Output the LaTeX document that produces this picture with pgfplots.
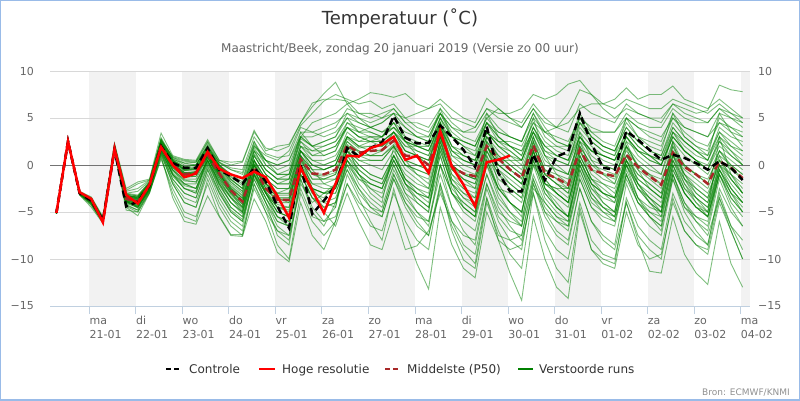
\documentclass[border=0pt]{standalone}
\usepackage{fontspec}
\setmainfont{DejaVu Sans}
\usepackage{pgfplots}
\pgfplotsset{compat=1.18}
\definecolor{ens}{RGB}{0,128,0}
\definecolor{hres}{RGB}{255,0,0}
\definecolor{pfty}{RGB}{168,40,40}
\definecolor{band}{RGB}{242,242,242}
\definecolor{gridc}{RGB}{216,216,216}
\definecolor{axc}{RGB}{192,208,224}
\definecolor{lab}{RGB}{102,102,102}
\definecolor{bordc}{RGB}{153,187,232}
\definecolor{ttl}{RGB}{51,51,51}
\definecolor{cred}{RGB}{144,144,144}
\newcommand\mem[1]{\addplot[ens, line width=0.9pt, draw opacity=0.5] table[row sep=\\, x expr=\coordindex*6-17, y=v]{v\\#1\\};}
\begin{document}
\begin{tikzpicture}[x=1pt,y=1pt]
\useasboundingbox (0,0) rectangle (800,400);
\draw[bordc, line width=2pt] (0,0) rectangle (800,400);
\begin{axis}[at={(50pt,94pt)}, anchor=south west, width=700pt, height=235pt, scale only axis,
 xmin=-20.3, xmax=340.8, ymin=-15, ymax=10,
 axis x line*=bottom, axis y line*=left,
 y axis line style={draw=none},
 x axis line style={draw=axc, line width=1pt, -},
 xtick={0,24,...,336},
 xticklabels={{\strut ma\\21-01},{\strut di\\22-01},{\strut wo\\23-01},{\strut do\\24-01},{\strut vr\\25-01},{\strut za\\26-01},{\strut zo\\27-01},{\strut ma\\28-01},{\strut di\\29-01},{\strut wo\\30-01},{\strut do\\31-01},{\strut vr\\01-02},{\strut za\\02-02},{\strut zo\\03-02},{\strut ma\\04-02}},
 tick align=outside, major tick length=8pt,
 xtick style={draw=axc, line width=1pt},
 ytick style={draw=none},
 ytick={-15,-10,-5,0,5,10}, yticklabels={−15,−10,−5,0,5,10},
 tick label style={font=\fontsize{11}{14}\selectfont, text=lab},
 xticklabel style={align=left, anchor=north west, inner sep=0pt},
 yticklabel style={anchor=east, inner sep=0pt, xshift=-8pt},
]
\fill[band] (axis cs:0,-15) rectangle (axis cs:24,10);
\fill[band] (axis cs:48,-15) rectangle (axis cs:72,10);
\fill[band] (axis cs:96,-15) rectangle (axis cs:120,10);
\fill[band] (axis cs:144,-15) rectangle (axis cs:168,10);
\fill[band] (axis cs:192,-15) rectangle (axis cs:216,10);
\fill[band] (axis cs:240,-15) rectangle (axis cs:264,10);
\fill[band] (axis cs:288,-15) rectangle (axis cs:312,10);
\fill[band] (axis cs:336,-15) rectangle (axis cs:340.8,10);
\draw[gridc, line width=1pt] (axis cs:-20.3,10) -- (axis cs:340.8,10);
\draw[gridc, line width=1pt] (axis cs:-20.3,5) -- (axis cs:340.8,5);
\draw[gridc, line width=1pt] (axis cs:-20.3,-5) -- (axis cs:340.8,-5);
\draw[gridc, line width=1pt] (axis cs:-20.3,-10) -- (axis cs:340.8,-10);
\draw[black!55, line width=1pt] (axis cs:-20.3,0) -- (axis cs:340.8,0);
% ensemble members (Verstoorde runs)
\mem{-5.0\\2.6\\-3.0\\-3.6\\-5.8\\1.9\\-3.0\\-3.2\\-1.8\\2.2\\0.6\\0.2\\0.3\\2.0\\0.3\\-0.5\\-1.0\\2.0\\1.0\\0.5\\1.5\\4.2\\5.5\\6.8\\7.5\\7.0\\6.5\\6.8\\6.0\\6.5\\5.0\\4.0\\3.5\\5.5\\4.0\\3.0\\2.5\\5.0\\6.0\\5.0\\4.5\\6.5\\5.0\\4.0\\5.5\\8.0\\7.5\\6.0\\5.0\\6.0\\5.5\\5.0\\4.5\\6.5\\6.0\\5.5\\5.8\\8.5\\8.0\\7.8}
\mem{-5.2\\2.5\\-2.9\\-3.5\\-5.6\\2.1\\-2.7\\-2.0\\-1.6\\2.6\\0.9\\0.5\\0.4\\2.5\\0.5\\0.0\\0.3\\3.5\\1.8\\1.5\\2.0\\4.5\\6.2\\7.6\\8.8\\6.5\\5.0\\4.0\\4.5\\5.5\\3.0\\2.0\\1.5\\4.5\\2.0\\1.0\\0.5\\3.5\\2.0\\1.0\\0.0\\3.5\\1.0\\0.0\\-1.0\\3.0\\1.5\\0.5\\0.0\\2.5\\1.5\\1.0\\0.0\\3.5\\2.5\\1.5\\1.0\\3.5\\2.5\\1.5}
\mem{-5.1\\2.4\\-3.1\\-4.0\\-6.0\\1.7\\-4.0\\-4.2\\-2.5\\1.5\\-1.0\\-2.5\\-2.8\\0.5\\-2.5\\-4.5\\-5.5\\-1.5\\-4.0\\-6.5\\-7.5\\-1.5\\-4.5\\-6.0\\-5.5\\-2.0\\-4.5\\-6.5\\-7.0\\-3.0\\-6.0\\-8.0\\-9.0\\-2.0\\-6.0\\-8.5\\-9.5\\-3.5\\-7.0\\-9.5\\-11.0\\-3.0\\-8.0\\-11.0\\-12.5\\-4.5\\-9.0\\-10.5\\-11.0\\-5.0\\-8.5\\-10.0\\-9.5\\-4.0\\-7.0\\-8.5\\-9.0\\-3.5\\-6.5\\-8.0}
\mem{-5.0\\2.6\\-3.2\\-4.3\\-6.1\\1.5\\-4.5\\-5.4\\-3.0\\0.8\\-3.0\\-5.5\\-6.0\\-1.5\\-4.5\\-6.5\\-7.5\\-2.0\\-5.0\\-8.5\\-10.0\\-3.0\\-6.0\\-7.5\\-6.0\\-1.0\\-3.5\\-6.0\\-8.0\\-2.5\\-7.0\\-10.5\\-13.2\\-4.5\\-8.5\\-11.0\\-12.0\\-5.0\\-8.0\\-9.0\\-8.5\\-2.5\\-4.0\\-5.5\\-6.0\\0.5\\-2.5\\-4.0\\-5.0\\0.0\\-2.0\\-3.5\\-5.0\\-0.5\\-3.0\\-4.5\\-5.5\\-1.0\\-3.0\\-4.0}
\mem{-5.1\\2.5\\-3.0\\-3.9\\-5.9\\1.6\\-4.2\\-4.8\\-2.8\\1.2\\-2.0\\-4.0\\-4.5\\-0.5\\-3.5\\-5.5\\-6.5\\-1.0\\-3.0\\-5.5\\-6.5\\-0.5\\-3.0\\-4.5\\-4.0\\0.0\\-2.5\\-4.5\\-5.5\\-1.5\\-4.5\\-6.5\\-7.5\\-2.5\\-6.5\\-9.0\\-10.5\\-3.5\\-8.0\\-11.5\\-14.4\\-5.5\\-10.0\\-13.0\\-14.2\\-5.0\\-9.0\\-10.0\\-10.5\\-3.5\\-6.5\\-8.0\\-9.0\\-3.0\\-6.0\\-7.5\\-8.5\\-2.5\\-5.0\\-6.5}
\mem{-5.2\\2.6\\-3.1\\-4.1\\-6.0\\1.8\\-3.8\\-4.6\\-2.6\\1.8\\-0.5\\-2.0\\-2.5\\0.8\\-1.5\\-3.5\\-4.5\\0.5\\-1.5\\-3.5\\-4.0\\1.5\\-0.5\\-2.0\\-2.5\\1.5\\-0.5\\-1.5\\-2.0\\0.5\\-2.0\\-3.5\\-4.5\\0.0\\-3.0\\-4.5\\-5.5\\-1.0\\-4.0\\-5.5\\-6.5\\-1.5\\-5.0\\-7.0\\-8.0\\-2.5\\-6.0\\-8.0\\-9.0\\-4.0\\-8.0\\-11.3\\-11.5\\-5.5\\-9.5\\-11.5\\-12.7\\-6.0\\-10.5\\-13.0}
\mem{-5.1\\2.5\\-3.0\\-3.7\\-5.8\\1.9\\-3.3\\-3.5\\-2.0\\2.4\\0.5\\-0.5\\-0.5\\1.5\\0.0\\-1.5\\-2.5\\1.5\\0.5\\-1.0\\-0.5\\3.0\\4.5\\5.0\\5.5\\6.5\\7.0\\7.7\\7.5\\7.2\\7.6\\6.5\\6.0\\7.0\\5.9\\5.0\\4.5\\7.1\\6.0\\5.0\\4.0\\6.0\\4.0\\2.5\\2.0\\5.5\\3.5\\2.5\\2.0\\5.0\\4.0\\3.0\\2.5\\5.5\\4.0\\3.5\\3.0\\5.5\\5.0\\4.5}
\mem{-5.0\\2.6\\-2.9\\-3.6\\-5.7\\2.0\\-3.2\\-3.5\\-1.9\\2.8\\0.5\\-0.5\\-0.3\\1.8\\-0.2\\-1.8\\-2.8\\1.0\\-1.0\\-2.0\\-2.0\\2.0\\0.5\\0.0\\0.5\\3.5\\2.5\\3.0\\3.0\\4.0\\2.5\\2.0\\1.5\\4.5\\1.5\\0.5\\0.0\\3.0\\1.5\\0.5\\-0.5\\3.0\\0.0\\-0.5\\-1.0\\2.5\\0.5\\0.0\\-0.5\\2.0\\0.5\\-0.5\\-1.0\\2.5\\1.0\\0.0\\-1.0\\1.5\\0.5\\-0.5}
\mem{-5.2\\2.4\\-3.1\\-4.0\\-6.0\\1.7\\-3.9\\-4.0\\-2.4\\1.7\\-0.5\\-1.5\\-1.5\\0.8\\-1.5\\-3.0\\-4.5\\-0.5\\-3.0\\-4.5\\-4.5\\0.0\\-2.0\\-2.0\\-1.5\\1.5\\0.5\\0.5\\0.5\\2.0\\0.0\\-0.5\\-1.0\\3.0\\-1.0\\-2.0\\-2.5\\1.5\\-0.5\\-1.5\\-2.5\\1.5\\-2.0\\-2.5\\-3.5\\1.0\\-1.5\\-2.0\\-2.5\\0.5\\-1.0\\-2.0\\-3.0\\1.0\\-1.0\\-2.0\\-3.0\\0.0\\-1.0\\-2.5}
\mem{-5.1\\2.5\\-3.0\\-3.8\\-5.9\\1.8\\-3.5\\-3.8\\-2.1\\2.1\\0.2\\-1.0\\-1.0\\1.0\\-1.0\\-2.5\\-3.5\\0.0\\-2.0\\-3.0\\-3.0\\1.0\\-0.5\\-0.5\\0.0\\3.0\\2.0\\2.5\\3.0\\4.5\\3.5\\3.0\\3.0\\5.5\\4.0\\3.5\\4.0\\6.0\\5.5\\5.5\\6.0\\7.5\\7.0\\7.5\\8.6\\9.0\\7.5\\6.5\\6.0\\7.0\\6.5\\6.0\\6.0\\7.0\\6.5\\6.0\\5.5\\6.5\\5.5\\4.5}
\mem{-5.0\\2.5\\-3.0\\-3.8\\-5.9\\1.8\\-3.4\\-3.6\\-2.0\\2.3\\0.3\\-0.8\\-0.7\\1.3\\-0.6\\-2.2\\-3.2\\0.5\\-1.5\\-2.5\\-2.5\\1.5\\0.0\\-0.5\\0.0\\3.0\\2.0\\2.0\\2.0\\3.5\\1.5\\1.0\\0.5\\4.5\\1.0\\0.5\\0.0\\3.5\\2.5\\2.5\\2.0\\4.5\\3.5\\4.0\\4.5\\6.0\\6.5\\6.5\\7.0\\8.2\\7.0\\7.5\\7.5\\8.4\\7.0\\6.5\\6.0\\7.0\\6.0\\5.0}
\mem{-5.1\\2.5\\-3.0\\-3.9\\-6.0\\1.6\\-4.0\\-4.3\\-2.6\\1.4\\-1.5\\-3.0\\-3.5\\0.0\\-3.0\\-5.0\\-6.0\\-1.0\\-3.5\\-6.0\\-6.5\\-1.0\\-3.5\\-4.0\\-3.5\\-0.5\\-3.0\\-4.5\\-5.0\\-1.0\\-3.5\\-5.0\\-6.0\\-1.0\\-4.5\\-6.0\\-7.0\\-2.0\\-5.0\\-6.0\\-6.5\\-1.0\\-4.0\\-5.5\\-6.5\\-1.5\\-4.5\\-5.5\\-6.0\\-1.5\\-4.0\\-5.5\\-6.5\\-1.5\\-4.5\\-5.5\\-6.5\\-1.0\\-4.0\\-5.5}
\mem{-5.2\\2.6\\-3.2\\-4.5\\-6.2\\1.4\\-4.8\\-5.0\\-3.0\\1.0\\-3.5\\-6.0\\-6.3\\-3.3\\-5.5\\-7.5\\-7.6\\-3.6\\-6.0\\-9.3\\-10.3\\-4.0\\-7.5\\-9.0\\-6.0\\-2.0\\-4.0\\-5.0\\-5.5\\-1.5\\-4.0\\-5.5\\-6.0\\0.0\\-3.0\\-4.0\\-5.0\\0.0\\-2.5\\-3.0\\-4.0\\0.5\\-2.0\\-3.0\\-4.0\\0.5\\-2.0\\-3.0\\-3.5\\1.0\\-1.0\\-2.0\\-3.0\\1.5\\-1.0\\-2.5\\-3.5\\0.5\\-1.0\\-2.0}
\mem{-5.0\\2.7\\-2.8\\-3.4\\-5.5\\2.3\\-2.5\\-1.8\\-1.5\\3.4\\1.0\\0.6\\0.5\\2.7\\0.5\\0.3\\0.4\\3.7\\1.5\\2.0\\2.2\\4.5\\6.6\\7.0\\7.0\\6.8\\5.5\\5.0\\5.5\\6.0\\4.5\\3.5\\3.0\\5.5\\3.0\\2.0\\1.5\\4.5\\3.0\\2.0\\1.0\\4.0\\2.0\\1.0\\0.5\\4.0\\2.5\\1.5\\1.0\\3.5\\2.0\\1.0\\0.0\\3.0\\1.5\\0.5\\-0.5\\2.5\\1.0\\0.0}
\mem{-5.1\\2.5\\-3.0\\-3.8\\-5.9\\1.8\\-3.6\\-3.9\\-2.2\\2.0\\0.0\\-1.0\\-0.8\\1.1\\-0.9\\-2.7\\-3.9\\-0.2\\-2.5\\-3.7\\-3.7\\0.6\\-0.9\\-1.0\\-0.5\\2.5\\1.3\\1.5\\1.6\\3.0\\1.0\\0.9\\0.0\\4.5\\-0.2\\-0.9\\-1.2\\3.0\\0.7\\-0.5\\-1.4\\3.0\\-0.9\\-1.4\\-2.1\\2.5\\-0.5\\-0.9\\-1.2\\2.0\\-0.2\\-1.2\\-2.1\\2.5\\-0.2\\-1.0\\-2.0\\1.5\\-0.3\\-1.4}
\mem{-5.1\\2.5\\-3.1\\-4.2\\-6.1\\1.5\\-4.4\\-5.0\\-2.9\\0.6\\-2.5\\-5.0\\-5.5\\-2.0\\-5.4\\-7.4\\-7.4\\-2.5\\-5.0\\-7.0\\-8.0\\-2.0\\-4.0\\-3.0\\-2.0\\1.5\\0.0\\-1.0\\-1.5\\1.0\\-1.5\\-2.5\\-3.5\\1.5\\-2.0\\-3.5\\-4.0\\1.0\\-2.5\\-4.0\\-5.0\\0.5\\-3.0\\-4.5\\-5.5\\0.0\\-3.0\\-4.5\\-5.0\\0.5\\-2.5\\-4.0\\-5.0\\0.5\\-2.5\\-4.0\\-5.0\\0.0\\-2.5\\-4.0}
\mem{-5.0\\2.6\\-2.9\\-3.6\\-5.7\\2.0\\-3.0\\-2.8\\-1.7\\2.9\\0.8\\0.2\\0.0\\2.2\\0.2\\-0.5\\-0.8\\2.5\\0.5\\0.0\\0.5\\3.5\\3.5\\4.0\\4.5\\5.5\\5.0\\4.5\\5.0\\6.0\\4.5\\4.5\\4.0\\6.0\\4.5\\3.5\\3.5\\5.5\\4.0\\3.0\\2.5\\5.0\\3.5\\3.0\\2.5\\5.0\\4.0\\3.5\\3.5\\5.0\\4.0\\3.5\\3.0\\5.0\\4.0\\3.5\\3.0\\4.5\\4.0\\3.5}
\mem{-5.2\\2.4\\-3.1\\-4.0\\-6.0\\1.7\\-3.9\\-4.4\\-2.5\\1.6\\-1.0\\-2.0\\-2.5\\0.5\\-2.0\\-4.0\\-5.0\\-1.0\\-4.0\\-7.5\\-8.5\\-1.5\\-5.0\\-6.5\\-4.0\\0.5\\-2.0\\-3.5\\-4.5\\-0.5\\-3.0\\-4.0\\-5.0\\2.0\\-2.5\\-4.0\\-5.0\\0.5\\-3.0\\-5.0\\-6.5\\1.5\\-2.5\\-4.0\\-5.5\\0.0\\-3.0\\-4.5\\-5.5\\0.0\\-3.5\\-5.5\\-7.0\\-1.0\\-4.5\\-6.0\\-7.0\\-1.5\\-4.5\\-6.5}
\mem{-5.1\\2.6\\-3.0\\-3.7\\-5.8\\1.9\\-3.3\\-3.4\\-2.0\\2.5\\0.5\\-0.2\\0.0\\2.0\\0.0\\-1.0\\-1.8\\2.5\\0.0\\-1.0\\-1.0\\3.5\\2.0\\2.5\\3.0\\5.0\\3.5\\3.5\\3.0\\4.5\\2.5\\1.5\\1.0\\5.0\\2.0\\1.0\\0.5\\4.5\\2.5\\1.5\\0.5\\4.0\\1.5\\0.5\\0.0\\4.5\\2.5\\1.5\\1.0\\5.0\\3.0\\2.0\\1.5\\5.5\\3.0\\2.0\\1.0\\5.5\\3.5\\2.0}
\mem{-5.1\\2.5\\-3.0\\-3.9\\-5.9\\1.7\\-3.8\\-4.2\\-2.4\\1.8\\-0.8\\-2.0\\-2.0\\0.5\\-2.0\\-3.5\\-5.0\\-0.5\\-3.0\\-5.0\\-5.5\\0.0\\-2.5\\-3.0\\-2.5\\0.5\\-1.5\\-2.0\\-2.5\\0.5\\-2.0\\-3.0\\-3.5\\2.0\\-2.0\\-3.0\\-3.5\\1.0\\-1.5\\-2.5\\-3.5\\1.0\\-2.5\\-3.5\\-4.5\\0.0\\-2.5\\-3.5\\-4.0\\0.0\\-2.5\\-3.5\\-4.5\\0.0\\-2.5\\-3.5\\-4.5\\-0.5\\-2.5\\-4.0}
\mem{-5.0\\2.5\\-3.0\\-3.8\\-5.9\\1.8\\-3.5\\-3.7\\-2.1\\2.1\\0.2\\-0.8\\-1.0\\1.0\\-1.2\\-3.0\\-4.2\\-0.5\\-2.0\\-3.0\\-2.5\\2.0\\1.5\\2.0\\2.5\\4.0\\3.0\\2.5\\2.0\\3.0\\0.5\\-1.0\\-2.0\\2.5\\-1.5\\-3.0\\-4.0\\0.5\\-2.5\\-4.0\\-5.0\\0.0\\-2.0\\-2.5\\-2.5\\2.5\\1.5\\1.0\\0.5\\3.0\\1.5\\0.5\\0.0\\3.0\\1.5\\0.5\\-0.5\\2.0\\1.0\\0.0}
\mem{-5.1\\2.5\\-3.0\\-3.8\\-5.9\\1.7\\-3.7\\-4.0\\-2.3\\1.9\\-0.3\\-1.3\\-1.2\\0.8\\-1.3\\-3.2\\-4.4\\-0.5\\-2.8\\-4.2\\-4.5\\0.3\\-2.0\\-2.5\\-2.5\\1.0\\-1.0\\-2.5\\-3.5\\0.0\\-3.0\\-5.0\\-6.5\\0.0\\-4.5\\-7.0\\-8.5\\-2.5\\-6.0\\-8.0\\-9.0\\-2.0\\-5.5\\-7.5\\-8.5\\-2.5\\-6.0\\-7.5\\-8.5\\-2.0\\-5.0\\-6.5\\-7.5\\-1.5\\-5.0\\-7.0\\-8.5\\-3.0\\-6.5\\-9.0}
\mem{-5.0\\2.6\\-2.9\\-3.5\\-5.7\\2.1\\-2.8\\-2.5\\-1.6\\2.7\\0.8\\0.4\\0.3\\2.4\\0.3\\-0.3\\-0.5\\3.0\\1.2\\0.8\\1.0\\4.0\\3.5\\3.0\\3.5\\5.0\\4.5\\4.0\\3.5\\4.0\\3.0\\2.5\\2.0\\5.0\\3.0\\2.5\\2.0\\4.5\\3.5\\3.0\\2.5\\5.5\\3.0\\2.0\\1.5\\5.0\\3.0\\2.0\\1.5\\4.0\\2.5\\1.5\\1.0\\4.0\\2.5\\1.5\\0.5\\4.0\\3.0\\2.5}
\mem{-5.1\\2.5\\-3.1\\-4.1\\-6.1\\1.6\\-4.1\\-4.5\\-2.7\\1.3\\-1.8\\-3.5\\-4.0\\-0.5\\-3.0\\-5.0\\-6.0\\-1.5\\-4.0\\-6.0\\-6.5\\-1.0\\-3.5\\-5.0\\-6.5\\-3.0\\-6.0\\-8.5\\-9.0\\-5.0\\-9.0\\-8.6\\-7.0\\-3.0\\-6.0\\-7.5\\-8.0\\-2.0\\-5.5\\-7.0\\-7.5\\-1.5\\-4.5\\-6.0\\-7.0\\-1.5\\-4.5\\-6.0\\-6.5\\-1.0\\-4.0\\-5.5\\-6.5\\-1.0\\-4.0\\-5.5\\-6.0\\-1.0\\-3.5\\-5.0}
\mem{-5.1\\2.5\\-3.0\\-3.8\\-5.9\\1.8\\-3.5\\-3.8\\-2.2\\2.2\\0.0\\-1.2\\-1.0\\1.3\\-0.8\\-2.5\\-3.5\\0.5\\-2.0\\-3.0\\-3.0\\1.5\\0.0\\-0.5\\0.0\\2.5\\1.5\\1.0\\1.0\\2.0\\0.0\\-1.0\\-1.5\\3.0\\0.0\\-1.0\\-1.5\\2.5\\0.5\\-0.5\\-1.5\\2.5\\-0.5\\-1.5\\-2.5\\2.0\\0.0\\-1.0\\-1.5\\2.0\\0.0\\-1.0\\-2.0\\2.0\\0.0\\-1.0\\-2.0\\1.5\\0.0\\-1.0}
\mem{-5.0\\2.6\\-3.0\\-3.7\\-5.8\\1.9\\-3.2\\-3.4\\-2.0\\2.4\\0.4\\-0.4\\-0.3\\1.7\\-0.2\\-1.5\\-2.5\\1.5\\-0.5\\-1.5\\-1.5\\2.5\\1.0\\1.5\\2.0\\4.0\\3.0\\3.0\\2.5\\3.5\\2.0\\1.5\\1.0\\4.0\\1.0\\0.0\\-0.5\\3.0\\1.0\\0.0\\-1.0\\3.0\\0.5\\-0.5\\-1.0\\3.0\\1.0\\0.0\\-0.5\\3.0\\1.0\\0.0\\-1.0\\3.5\\1.5\\0.5\\-0.5\\3.0\\1.5\\0.0}
\mem{-5.2\\2.5\\-3.1\\-3.9\\-6.0\\1.7\\-3.8\\-4.1\\-2.4\\1.8\\-0.5\\-1.6\\-1.8\\0.5\\-1.8\\-3.5\\-4.8\\-1.0\\-3.0\\-4.5\\-5.0\\-0.5\\-2.5\\-3.0\\-3.0\\0.0\\-1.5\\-2.5\\-3.0\\0.0\\-2.5\\-3.5\\-4.5\\1.0\\-3.0\\-4.5\\-5.5\\0.0\\-3.5\\-5.0\\-6.0\\0.0\\-3.5\\-5.0\\-6.0\\-0.5\\-3.5\\-4.5\\-5.5\\-0.5\\-3.5\\-5.0\\-6.0\\-0.5\\-3.0\\-4.5\\-5.5\\-0.5\\-3.0\\-4.5}
\mem{-5.1\\2.5\\-3.0\\-3.8\\-5.9\\1.8\\-3.6\\-3.9\\-2.2\\2.0\\0.0\\-1.0\\-0.8\\1.1\\-0.9\\-2.7\\-3.9\\1.0\\-1.0\\-2.0\\-1.5\\3.0\\2.0\\1.0\\1.5\\4.5\\4.0\\3.5\\3.0\\5.0\\4.0\\3.0\\2.5\\6.0\\3.0\\2.0\\1.0\\5.5\\3.0\\2.0\\1.0\\5.0\\1.0\\-1.0\\-2.0\\3.5\\0.5\\-1.0\\-2.0\\2.5\\-0.5\\-2.5\\-3.5\\2.0\\-1.0\\-3.0\\-4.0\\1.0\\-1.5\\-3.0}
\mem{-5.1\\2.4\\-3.0\\-3.9\\-5.9\\1.7\\-3.7\\-4.0\\-2.3\\1.9\\-0.2\\-1.2\\-1.0\\1.0\\-1.0\\-2.8\\-4.0\\0.0\\-2.5\\-4.0\\-4.0\\0.5\\-1.5\\-1.5\\-1.0\\2.0\\0.5\\0.0\\-0.5\\1.5\\-0.5\\-1.5\\-2.5\\2.0\\-1.0\\-2.5\\-3.5\\1.5\\-1.0\\-2.5\\-3.5\\1.5\\-1.5\\-3.0\\-4.0\\0.5\\-2.0\\-3.0\\-3.5\\0.5\\-1.5\\-2.5\\-3.5\\0.5\\-1.5\\-3.0\\-4.0\\0.0\\-1.5\\-3.0}
\mem{-5.0\\2.6\\-2.9\\-3.7\\-5.8\\1.9\\-3.4\\-3.6\\-2.0\\2.3\\0.3\\-0.6\\-0.4\\1.5\\-0.5\\-2.0\\-3.0\\1.0\\-1.0\\-2.0\\-2.0\\1.5\\0.5\\0.5\\1.0\\3.0\\2.5\\2.5\\2.5\\3.5\\2.0\\2.0\\1.5\\4.0\\1.5\\1.0\\0.5\\3.5\\2.0\\1.5\\0.5\\3.5\\1.0\\0.5\\0.0\\3.0\\1.5\\1.0\\0.5\\3.0\\1.5\\0.5\\0.0\\3.0\\1.5\\0.5\\0.0\\2.5\\1.5\\0.5}
\mem{-5.1\\2.5\\-3.0\\-3.7\\-5.8\\1.8\\-3.3\\-3.6\\-2.0\\2.3\\0.4\\-0.6\\-0.5\\1.6\\-0.4\\-1.8\\-2.8\\1.2\\-0.5\\-1.5\\-1.0\\2.8\\2.0\\2.5\\3.0\\5.5\\4.5\\4.0\\3.5\\4.5\\2.5\\1.0\\0.0\\3.5\\0.0\\-1.5\\-2.5\\2.0\\-0.5\\-2.0\\-3.0\\1.5\\-1.5\\-3.0\\-4.0\\1.0\\-1.5\\-3.0\\-4.0\\0.5\\-2.0\\-3.5\\-4.5\\1.0\\-2.0\\-4.0\\-5.5\\-0.5\\-3.0\\-5.0}
\mem{-5.1\\2.5\\-3.0\\-3.9\\-6.0\\1.7\\-3.9\\-4.3\\-2.5\\1.6\\-1.2\\-2.5\\-3.0\\0.2\\-2.5\\-4.5\\-5.5\\-1.0\\-3.5\\-5.5\\-6.0\\-0.5\\-3.0\\-3.5\\-2.0\\2.0\\1.5\\1.0\\1.5\\3.5\\2.5\\2.0\\2.0\\5.0\\3.0\\2.5\\2.0\\5.0\\3.5\\3.0\\2.5\\5.5\\3.5\\2.5\\2.0\\5.0\\3.0\\2.0\\1.5\\4.0\\2.5\\1.5\\1.0\\4.5\\3.0\\2.0\\1.5\\5.0\\4.0\\3.0}
\mem{-5.1\\2.5\\-3.0\\-3.8\\-5.9\\1.8\\-3.6\\-3.8\\-2.2\\2.1\\0.1\\-0.9\\-0.7\\1.2\\-0.8\\-2.4\\-3.6\\0.2\\-2.0\\-3.2\\-3.2\\1.0\\-0.5\\-0.5\\0.0\\2.8\\1.8\\2.0\\2.0\\3.0\\1.5\\1.0\\0.5\\3.8\\0.5\\-0.5\\-1.0\\2.5\\1.0\\0.0\\-1.0\\2.5\\-0.5\\-1.0\\-1.5\\2.0\\0.0\\-0.5\\-1.0\\1.5\\0.0\\-1.0\\-1.5\\1.5\\0.0\\-1.0\\-1.5\\1.0\\0.0\\-1.0}
\mem{-5.1\\2.5\\-3.0\\-3.8\\-5.9\\1.8\\-3.7\\-4.0\\-2.3\\1.9\\-0.3\\-1.3\\-1.2\\0.9\\-1.2\\-3.0\\-4.2\\0.0\\-2.0\\-3.5\\-3.5\\1.0\\-1.0\\-1.5\\-1.5\\1.5\\0.0\\-1.0\\-1.5\\1.0\\-1.5\\-3.0\\-4.0\\1.0\\-3.0\\-5.0\\-6.0\\-1.0\\-4.5\\-6.5\\-8.0\\-3.0\\-7.0\\-9.0\\-10.0\\-4.0\\-8.0\\-9.5\\-10.0\\-4.0\\-7.5\\-9.0\\-10.0\\-3.5\\-7.0\\-8.5\\-9.5\\-4.0\\-7.0\\-10.0}
\mem{-5.0\\2.6\\-2.9\\-3.6\\-5.7\\2.0\\-3.1\\-3.3\\-1.9\\2.6\\0.6\\-0.2\\0.0\\1.9\\0.0\\-1.2\\-2.0\\2.0\\0.5\\0.0\\0.5\\3.0\\3.0\\3.5\\4.0\\6.0\\5.5\\5.5\\5.0\\5.5\\4.0\\3.0\\2.5\\5.5\\3.5\\2.5\\2.0\\4.5\\3.0\\2.0\\1.5\\4.5\\2.5\\1.5\\1.0\\4.5\\3.0\\2.0\\1.5\\4.5\\3.0\\2.5\\2.0\\5.0\\3.5\\2.5\\2.0\\4.5\\3.5\\3.0}
\mem{-5.2\\2.5\\-3.1\\-4.0\\-6.0\\1.6\\-3.9\\-4.4\\-2.6\\1.6\\-1.0\\-2.2\\-2.5\\0.3\\-2.2\\-4.0\\-5.2\\-0.8\\-3.0\\-5.0\\-5.5\\0.0\\-2.5\\-3.0\\-2.5\\1.0\\-0.5\\-1.5\\-2.0\\1.0\\-1.5\\-2.5\\-3.0\\2.5\\-1.5\\-2.5\\-3.0\\1.5\\-1.0\\-2.0\\-3.0\\1.5\\-2.0\\-3.0\\-4.0\\0.5\\-2.0\\-3.0\\-3.5\\0.5\\-2.0\\-3.0\\-4.0\\0.5\\-2.0\\-3.5\\-4.5\\0.0\\-2.0\\-3.5}
\mem{-5.1\\2.5\\-3.0\\-3.9\\-6.0\\1.8\\-3.8\\-4.5\\-2.6\\2.0\\-1.0\\-2.5\\-3.0\\1.0\\-2.0\\-4.0\\-5.0\\0.5\\-3.0\\-5.0\\-5.5\\1.0\\-2.5\\-4.0\\-4.5\\2.0\\-1.0\\-3.0\\-4.0\\2.0\\-2.0\\-4.0\\-5.0\\3.0\\-2.0\\-4.5\\-5.5\\2.5\\-2.0\\-4.0\\-5.5\\2.5\\-2.5\\-4.5\\-5.5\\2.0\\-2.0\\-4.0\\-5.0\\2.0\\-2.0\\-4.0\\-5.0\\2.5\\-1.5\\-3.5\\-5.0\\3.0\\-1.0\\-3.0}
\mem{-5.0\\2.6\\-2.9\\-3.6\\-5.7\\2.0\\-3.1\\-3.3\\-1.8\\2.7\\0.7\\0.0\\0.0\\2.0\\0.0\\-1.0\\-1.5\\2.2\\0.5\\-0.5\\0.0\\3.0\\2.0\\2.0\\2.5\\4.5\\3.5\\3.0\\3.0\\4.0\\2.5\\2.0\\2.0\\4.5\\2.0\\1.5\\1.0\\3.5\\2.5\\2.0\\1.5\\3.5\\1.5\\1.0\\0.5\\3.0\\1.5\\1.0\\0.5\\3.0\\1.5\\1.0\\0.5\\3.5\\2.0\\1.0\\0.5\\3.0\\2.0\\1.5}
\mem{-5.1\\2.5\\-3.0\\-3.9\\-5.9\\1.7\\-3.8\\-4.1\\-2.4\\1.8\\-0.6\\-1.7\\-1.8\\0.5\\-1.7\\-3.4\\-4.6\\-0.6\\-2.8\\-4.5\\-4.8\\-0.2\\-2.5\\-3.0\\-3.0\\0.5\\-1.0\\-2.0\\-2.5\\0.5\\-2.0\\-3.0\\-3.5\\1.5\\-2.0\\-3.5\\-4.5\\0.5\\-2.5\\-4.0\\-5.0\\0.5\\-3.0\\-4.5\\-5.5\\-0.5\\-3.5\\-5.0\\-6.0\\-1.0\\-4.0\\-5.0\\-5.5\\0.0\\-3.0\\-4.5\\-5.5\\-1.0\\-3.5\\-5.0}
\mem{-5.1\\2.5\\-3.0\\-3.7\\-5.8\\1.9\\-3.3\\-3.5\\-2.0\\2.4\\0.4\\-0.5\\-0.5\\1.5\\-0.3\\-1.6\\-2.5\\1.5\\-0.5\\-1.5\\-1.5\\2.0\\1.0\\1.0\\1.5\\4.0\\3.5\\4.0\\4.5\\5.5\\5.0\\5.5\\6.0\\6.5\\5.0\\4.5\\4.0\\6.0\\5.0\\4.5\\4.0\\6.0\\4.5\\4.0\\3.5\\6.5\\5.5\\5.0\\4.5\\6.5\\5.5\\5.0\\5.0\\6.5\\5.5\\5.0\\4.5\\6.0\\5.0\\4.0}
\mem{-5.1\\2.5\\-3.1\\-4.0\\-6.0\\1.6\\-4.0\\-4.5\\-2.7\\1.4\\-1.5\\-3.0\\-3.5\\-0.2\\-2.8\\-4.8\\-5.8\\-1.2\\-3.5\\-5.5\\-6.0\\-1.0\\-3.5\\-4.5\\-4.0\\-0.5\\-2.5\\-4.0\\-5.0\\-1.0\\-4.0\\-6.0\\-7.5\\-2.0\\-7.0\\-10.1\\-11.0\\-4.0\\-7.5\\-8.0\\-7.5\\-2.0\\-5.0\\-6.0\\-6.5\\-1.0\\-4.0\\-5.0\\-5.5\\-1.0\\-3.5\\-4.5\\-5.0\\0.0\\-3.0\\-4.5\\-5.0\\-0.5\\-2.5\\-4.0}
\mem{-5.1\\2.5\\-3.0\\-3.8\\-5.9\\1.8\\-3.5\\-3.9\\-2.2\\2.1\\0.0\\-1.1\\-0.9\\1.1\\-1.0\\-2.6\\-3.8\\0.0\\-2.2\\-3.5\\-3.5\\0.8\\-1.0\\-1.2\\-0.8\\2.2\\1.0\\1.0\\1.0\\2.2\\0.5\\0.0\\-0.5\\3.2\\-0.5\\-1.5\\-2.0\\2.0\\0.0\\-1.0\\-2.0\\2.0\\-1.0\\-2.0\\-2.5\\1.5\\-0.5\\-1.5\\-2.0\\1.0\\-0.5\\-1.5\\-2.5\\1.0\\-0.5\\-1.5\\-2.5\\0.5\\-0.5\\-1.5}
\mem{-5.0\\2.6\\-3.0\\-3.7\\-5.8\\1.9\\-3.3\\-3.4\\-2.0\\2.5\\0.5\\-0.3\\-0.2\\1.8\\-0.1\\-1.3\\-2.2\\1.8\\0.0\\-1.0\\-1.0\\2.5\\1.5\\1.5\\2.0\\4.0\\3.0\\2.5\\2.5\\3.5\\1.5\\1.0\\0.5\\4.0\\1.5\\0.5\\0.0\\3.5\\2.0\\1.0\\0.5\\4.0\\2.0\\1.0\\0.5\\3.5\\2.0\\1.0\\0.5\\3.5\\2.0\\1.0\\0.5\\4.0\\2.5\\1.5\\0.5\\3.5\\2.0\\1.0}
\mem{-5.2\\2.5\\-3.1\\-4.2\\-6.1\\1.5\\-4.3\\-4.8\\-2.8\\1.1\\-2.0\\-4.0\\-4.5\\-1.0\\-4.0\\-6.0\\-7.0\\-2.0\\-4.5\\-7.0\\-7.5\\-2.5\\-5.5\\-6.0\\-4.5\\0.5\\-1.0\\-2.0\\-2.5\\1.0\\-1.0\\-2.0\\-2.5\\2.5\\-0.5\\-1.5\\-2.0\\2.0\\0.0\\-1.0\\-2.0\\2.0\\-1.0\\-2.0\\-3.0\\1.5\\-1.0\\-2.0\\-3.0\\1.0\\-1.5\\-2.5\\-3.5\\1.0\\-1.5\\-2.5\\-3.5\\0.5\\-1.5\\-3.0}
\mem{-5.1\\2.5\\-3.0\\-3.8\\-5.9\\1.8\\-3.4\\-3.7\\-2.1\\2.2\\0.1\\-0.8\\-0.8\\1.2\\-0.7\\-2.3\\-3.3\\0.5\\-1.5\\-2.5\\-2.5\\1.5\\0.0\\0.0\\0.5\\3.0\\2.0\\1.5\\1.5\\2.5\\0.5\\0.0\\-0.5\\3.0\\0.0\\-1.0\\-1.5\\2.0\\0.5\\0.5\\0.5\\3.5\\2.0\\2.0\\2.0\\4.5\\3.5\\3.5\\3.5\\5.5\\4.5\\4.0\\4.0\\6.0\\5.0\\4.5\\4.5\\6.0\\5.5\\5.0}
\mem{-5.1\\2.5\\-3.0\\-3.8\\-5.9\\1.7\\-3.6\\-3.9\\-2.2\\2.0\\-0.1\\-1.1\\-1.0\\1.0\\-1.0\\-2.8\\-4.0\\0.0\\-2.5\\-3.8\\-3.8\\0.5\\-1.5\\-1.5\\-1.0\\2.0\\1.0\\0.5\\0.5\\2.0\\0.0\\-0.5\\-1.0\\3.0\\0.0\\-1.0\\-1.5\\2.0\\0.0\\-1.0\\-2.0\\2.0\\-1.0\\-2.0\\-3.0\\1.0\\-1.5\\-2.5\\-3.5\\0.0\\-2.5\\-4.0\\-5.5\\-1.0\\-4.0\\-6.0\\-7.5\\-3.5\\-7.0\\-10.0}
% median P50
\addplot[pfty, line width=2.5pt, dash pattern=on 7pt off 4pt] table[row sep=\\, x expr=\coordindex*6-17, y=v]{v\\-5.1\\2.5\\-3.0\\-3.8\\-5.9\\1.8\\-3.6\\-3.9\\-2.2\\2.0\\0.0\\-1.0\\-0.8\\1.1\\-0.9\\-2.7\\-3.9\\-0.2\\-2.5\\-3.7\\-3.7\\0.6\\-0.9\\-1.0\\-0.5\\2.1\\1.3\\1.5\\1.6\\2.6\\1.0\\0.9\\0.0\\3.6\\-0.2\\-0.9\\-1.2\\2.0\\0.7\\-0.5\\-1.4\\2.1\\-0.9\\-1.4\\-2.1\\1.6\\-0.5\\-0.9\\-1.2\\1.1\\-0.2\\-1.2\\-2.1\\1.3\\-0.2\\-1.0\\-2.0\\0.4\\-0.3\\-1.4\\};
% control
\addplot[black, line width=2.5pt, dash pattern=on 7pt off 4pt] table[row sep=\\, x expr=\coordindex*6-17, y=v]{v\\-5.1\\2.5\\-3.0\\-3.8\\-5.9\\1.6\\-4.4\\-3.9\\-2.2\\2.0\\0.2\\-0.3\\-0.3\\1.8\\-0.5\\-1.2\\-2.0\\-0.3\\-1.7\\-4.4\\-6.7\\0.0\\-5.2\\-3.8\\-2.2\\1.8\\0.9\\1.8\\2.4\\5.2\\2.9\\2.3\\2.35\\4.2\\3.0\\1.6\\-0.2\\4.1\\-0.85\\-2.8\\-2.8\\1.1\\-1.6\\0.9\\1.4\\5.5\\2.3\\-0.3\\-0.5\\3.6\\2.7\\1.6\\0.55\\1.1\\0.75\\0.2\\-0.5\\0.4\\-0.3\\-1.6\\};
% high resolution
\addplot[hres, line width=2.5pt] table[row sep=\\, x expr=\coordindex*6-17, y=v]{v\\-5.1\\2.5\\-2.9\\-3.6\\-6.1\\1.7\\-3.2\\-4.1\\-2.1\\1.9\\0.0\\-1.3\\-0.9\\1.4\\-0.4\\-1.0\\-1.4\\-0.7\\-1.3\\-3.3\\-5.6\\-0.3\\-2.7\\-5.1\\-2.0\\1.0\\0.9\\1.8\\2.2\\3.0\\0.55\\1.0\\-0.85\\3.6\\-0.15\\-2.1\\-4.4\\0.3\\0.55\\1.0\\};
\end{axis}
\begin{axis}[at={(50pt,94pt)}, anchor=south west, width=700pt, height=235pt, scale only axis,
 xmin=-20.3, xmax=340.8, ymin=-15, ymax=10,
 hide x axis, axis y line*=right, y axis line style={draw=none}, ytick style={draw=none},
 ytick={-15,-10,-5,0,5,10}, yticklabels={−15,−10,−5,0,5,10},
 tick label style={font=\fontsize{11}{14}\selectfont, text=lab},
 yticklabel style={anchor=west, inner sep=0pt, xshift=8pt}]
\addplot[draw=none] coordinates {(0,0)};
\end{axis}
\node[font=\fontsize{18}{22}\selectfont, text=ttl, anchor=base] at (400,375) {Temperatuur (˚C)};
\node[font=\fontsize{12}{14}\selectfont, text=lab, anchor=base] at (400,348) {Maastricht/Beek, zondag 20 januari 2019 (Versie zo 00 uur)};
% legend
\begin{scope}[font=\fontsize{12}{14}\selectfont, text=ttl]
\draw[black, line width=2pt, dash pattern=on 5pt off 3pt] (166,31) -- (181,31);
\node[anchor=base west, inner sep=0pt] at (189,26.5) {Controle};
\draw[hres, line width=2pt] (259,31) -- (275,31);
\node[anchor=base west, inner sep=0pt] at (282,26.5) {Hoge resolutie};
\draw[pfty, line width=2pt, dash pattern=on 5pt off 3pt] (385,31) -- (400,31);
\node[anchor=base west, inner sep=0pt] at (407,26.5) {Middelste (P50)};
\draw[ens, line width=2pt] (518,31) -- (533,31);
\node[anchor=base west, inner sep=0pt] at (539,26.5) {Verstoorde runs};
\end{scope}
\node[font=\fontsize{9}{11}\selectfont, text=cred, anchor=base east, inner sep=0pt] at (790,5) {Bron: ECMWF/KNMI};
\end{tikzpicture}
\end{document}
